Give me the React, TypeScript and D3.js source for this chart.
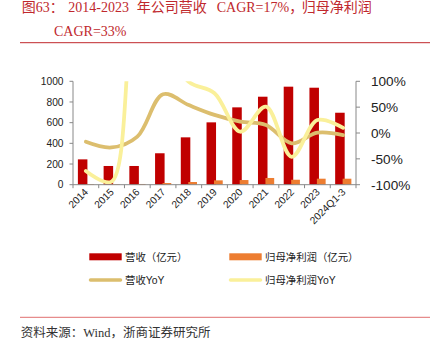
import React from "react";
import * as d3 from "d3";

const categories = ["2014", "2015", "2016", "2017", "2018", "2019", "2020", "2021", "2022", "2023", "2024Q1-3"];
const revenue = [245, 181, 181, 304, 458, 603, 748, 851, 948, 938, 696];
const netProfit = [5, 5, 7, 16, 26, 42, 45, 65, 48, 58, 58];
const revenueYoY = [-17, -28, -7, 75, 54, 35, 22, 15.5, -20, 0.6, -4];
const netProfitYoY = [-73.5, -94, 230, 170, 99, 77, 2.5, 51, -46, 25, 10];
const leftTicks = [0, 200, 400, 600, 800, 1000];
const rightTicks = [-100, -50, 0, 50, 100];

const W = 440;
const H = 347;
const X0 = 73;
const X1 = 356;
const YT = 81.3;
const YB = 184.7;

const RED = "#C00000";
const ORANGE = "#ED7D31";
const TAN = "#DCBE6E";
const YELLOW = "#FAF09A";
const AXIS = "#888888";
const SANS = "'Liberation Sans', Arial, sans-serif";
const CJK = "'Liberation Sans', 'Noto Sans CJK SC', sans-serif";
const SERIF = "'Liberation Serif', 'Noto Sans CJK SC', serif";

export default function App() {
  const x = d3.scaleBand<string>().domain(categories).range([X0, X1]).padding(0);
  const bw = x.bandwidth();
  const yL = d3.scaleLinear().domain([0, 1000]).range([YB, YT]);
  const yR = d3.scaleLinear().domain([-100, 100]).range([YB, YT]);
  const cx = (c: string) => (x(c) as number) + bw / 2;

  const line = d3
    .line<number>()
    .x((_, i) => cx(categories[i]))
    .y((d) => yR(d))
    .curve(d3.curveCatmullRom.alpha(0.5));

  return (
    <svg width={W} height={H} style={{ position: "absolute", left: 0, top: 0, background: "#fff" }}>
      <defs>
        <clipPath id="plot">
          <rect x={X0} y={YT} width={X1 - X0} height={YB - YT} />
        </clipPath>
      </defs>
      {/* Title */}
      <g fill="#C0282D" fontFamily={SERIF} fontSize={14}>
        <text x={21.7} y={11.5}>图63：</text>
        <text x={68.3} y={11.5}>2014-2023</text>
        <text x={136.7} y={11.5}>年公司营收</text>
        <text x={216.7} y={11.5}>CAGR=17%，</text>
        <text x={301.7} y={11.5}>归母净利润</text>
        <text x={54} y={36}>CAGR=33%</text>
      </g>
      <line x1={20} x2={430} y1={42.7} y2={42.7} stroke="#C0282D" strokeWidth={1} />

      {/* Bars */}
      {categories.map((c, i) => (
        <rect key={"r" + c} x={(x(c) as number) + bw * 0.19} y={yL(revenue[i])} width={bw * 0.37} height={YB - yL(revenue[i])} fill={RED} />
      ))}
      {categories.map((c, i) => (
        <rect key={"o" + c} x={(x(c) as number) + bw * 0.48} y={yL(netProfit[i])} width={bw * 0.34} height={YB - yL(netProfit[i])} fill={ORANGE} />
      ))}

      {/* Lines */}
      <g clipPath="url(#plot)" fill="none" strokeLinecap="round" strokeLinejoin="round">
        <path d={line(revenueYoY) || ""} stroke={TAN} strokeWidth={3.8} />
        <path d={line(netProfitYoY) || ""} stroke={YELLOW} strokeWidth={3.8} />
      </g>

      {/* Left axis */}
      <line x1={X0} x2={X0} y1={YT} y2={YB} stroke={AXIS} />
      {leftTicks.map((t) => (
        <g key={"l" + t}>
          <line x1={X0 - 3.5} x2={X0} y1={yL(t)} y2={yL(t)} stroke={AXIS} />
          <text x={63.5} y={yL(t) + 3.6} textAnchor="end" fontFamily={SANS} fontSize={10.2} fill="#222">
            {t}
          </text>
        </g>
      ))}
      {/* Right axis */}
      <line x1={X1} x2={X1} y1={YT} y2={YB} stroke={AXIS} />
      {rightTicks.map((t) => (
        <g key={"r" + t}>
          <line x1={X1} x2={X1 + 4} y1={yR(t)} y2={yR(t)} stroke={AXIS} />
          <text x={371} y={yR(t) + 4.8} fontFamily={SANS} fontSize={13.6} fill="#222">
            {t + "%"}
          </text>
        </g>
      ))}
      {/* Bottom axis */}
      <line x1={X0} x2={X1} y1={YB} y2={YB} stroke={AXIS} />
      {[...categories.map((c) => x(c) as number), X1].map((px, i) => (
        <line key={"t" + i} x1={px} x2={px} y1={YB} y2={YB + 3.5} stroke={AXIS} />
      ))}
      {categories.map((c) => (
        <text
          key={"x" + c}
          transform={`translate(${cx(c) + 3},${YB + 8}) rotate(-45)`}
          textAnchor="end"
          fontFamily={SANS}
          fontSize={10.2}
          fill="#222"
        >
          {c}
        </text>
      ))}

      {/* Legend */}
      <g fontFamily={CJK} fontSize={10.4} fill="#222">
        <rect x={89.3} y={253.3} width={32.4} height={7} fill={RED} />
        <text x={125} y={260.5}>营收（亿元）</text>
        <rect x={229.3} y={253.3} width={32.4} height={7} fill={ORANGE} />
        <text x={265} y={260.5}>归母净利润（亿元）</text>
        <line x1={90.5} x2={120.5} y1={280} y2={280} stroke={TAN} strokeWidth={3.5} strokeLinecap="round" />
        <text x={125} y={283.8}>营收YoY</text>
        <line x1={230.5} x2={260.5} y1={280} y2={280} stroke={YELLOW} strokeWidth={3.5} strokeLinecap="round" />
        <text x={265} y={283.8}>归母净利润YoY</text>
      </g>

      {/* Source */}
      <line x1={20} x2={430} y1={317.3} y2={317.3} stroke="#E07070" strokeWidth={1} />
      <text x={20.7} y={336.5} fontFamily={SERIF} fontSize={12.5} fill="#333">
        资料来源：Wind，浙商证券研究所
      </text>
    </svg>
  );
}
